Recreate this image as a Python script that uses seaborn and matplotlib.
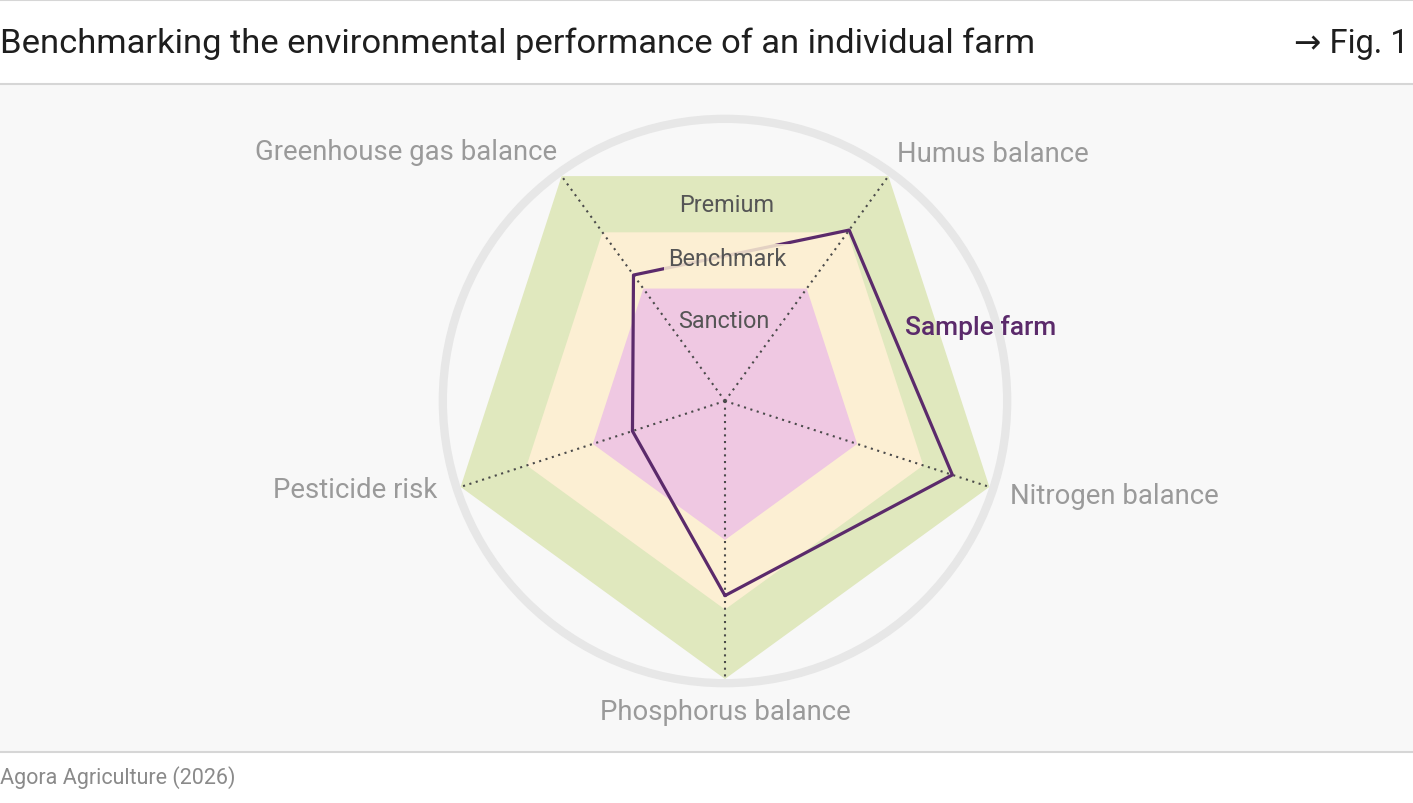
import numpy as np
import pandas as pd
import matplotlib
matplotlib.use("Agg")
import matplotlib.pyplot as plt
from matplotlib.patches import Circle, Rectangle
import seaborn as sns

# Data
categories = ["Phosphorus balance", "Nitrogen balance", "Humus balance",
              "Greenhouse gas balance", "Pesticide risk"]
band_names = ["Premium", "Benchmark", "Sanction"]
band_levels = [1.0, 0.75, 0.5]
sample_farm = [0.70, 0.86, 0.76, 0.56, 0.35]

title = "Benchmarking the environmental performance of an individual farm"
fig_ref = "\u2192 Fig. 1"
source = "Agora Agriculture (2026)"

# Styling
W, H = 1413, 804
CX, CY, R = 725, 402, 278  # radar centre and radius in pixels
band_colors = ["#E0E8BE", "#FCEFD3", "#EFC8E2"]
purple = "#5B2A6B"
label_gray = "#9A9A9A"

sns.set_theme(style="white")
plt.rcParams["font.family"] = ["Roboto", "DejaVu Sans"]

fig = plt.figure(figsize=(W / 100, H / 100), dpi=100)
fig.patch.set_facecolor("white")

# background panel and rules
bg = fig.add_axes([0, 0, 1, 1], zorder=0)
bg.set_xlim(0, W)
bg.set_ylim(H, 0)
bg.axis("off")
bg.add_patch(Rectangle((0, 85), W, 668, facecolor="#F8F8F8", edgecolor="none"))
for y in (1, 85, 753):
    bg.axhline(y, color="#D6D6D6", lw=1.5)
bg.text(0, 44, title, fontsize=24.8, color="#1E1E1E", va="center", ha="left")
bg.text(W - 4, 44, fig_ref, fontsize=23.5, color="#1E1E1E", va="center", ha="right")
bg.text(0, 778, source, fontsize=15.5, color="#8A8A8A", va="center", ha="left")

# radar axes: 1 data unit == R pixels
span = 1.1
aw = 2 * span * R
ax = fig.add_axes([(CX - aw / 2) / W, (H - CY - aw / 2) / H, aw / W, aw / H], zorder=1)
ax.set_xlim(-span, span)
ax.set_ylim(-span, span)
ax.axis("off")
ax.patch.set_alpha(0)

n = len(categories)
theta = np.deg2rad(-90 + 360 / n * np.arange(n))

for lvl, col in zip(band_levels, band_colors):
    ax.fill(lvl * np.cos(theta), lvl * np.sin(theta), color=col, lw=0, zorder=1)

ax.add_patch(Circle((0, 0), 1.015, fill=False, edgecolor="#E7E7E7", lw=6, zorder=1))

for t in theta:
    ax.plot([0, np.cos(t)], [0, np.sin(t)], color="#4A4A4A", lw=1.5,
            ls=(0, (1, 2.2)), zorder=2)

vals = np.array(sample_farm + sample_farm[:1])
th = np.append(theta, theta[0])
farm = pd.DataFrame({"x": vals * np.cos(th), "y": vals * np.sin(th)})
sns.lineplot(data=farm, x="x", y="y", sort=False, estimator=None,
             color=purple, lw=2.3, ax=ax, zorder=3)
ax.set_xlabel("")
ax.set_ylabel("")


def px(x, y):
    return (x - CX) / R, (CY - y) / R


# category labels
label_pos = [(725, 713, "center"), (1010, 497, "left"), (897, 155, "left"),
             (557, 153, "right"), (437, 491, "right")]
for name, (x, y, ha) in zip(categories, label_pos):
    ax.text(*px(x, y), name, fontsize=19.8, color=label_gray, ha=ha, va="center",
            clip_on=False)

# band labels
band_pos = [(727, 206), (727, 260), (724, 322)]
for name, (x, y), col in zip(band_names, band_pos, band_colors):
    kw = {}
    if name == "Benchmark":
        kw["bbox"] = dict(boxstyle="square,pad=0.15", facecolor=col,
                          edgecolor="none", alpha=0.85)
    ax.text(*px(x, y), name, fontsize=16.8, color="#555555", ha="center",
            va="center", zorder=4, **kw)

ax.text(*px(905, 328), "Sample farm", fontsize=19, fontweight="medium",
        color=purple, ha="left", va="center", zorder=4)

fig.savefig("out.png", dpi=100)
